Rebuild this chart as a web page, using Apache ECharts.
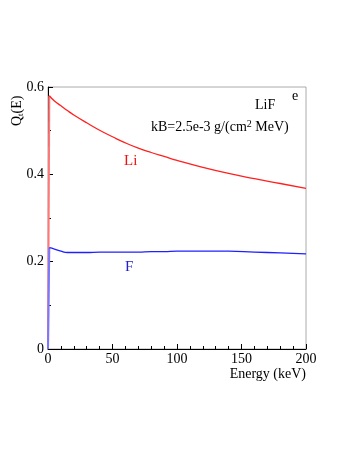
<!DOCTYPE html>
<html>
<head>
<meta charset="utf-8">
<script src="https://cdn.jsdelivr.net/npm/echarts@6/dist/echarts.min.js"></script>
<style>
html,body{margin:0;padding:0;background:#fff;}
#chart{width:360px;height:466px;}
</style>
</head>
<body>
<div id="chart"></div>
<script>
// values
let energy = [0, 1, 5, 10, 15, 20, 30, 40, 50, 60, 70, 80, 90, 100, 120, 140, 160, 180, 200];
let liQ = [0, 0.580, 0.568, 0.557, 0.546, 0.536, 0.518, 0.501, 0.486, 0.472, 0.460, 0.450, 0.441, 0.432, 0.416, 0.402, 0.390, 0.379, 0.368];
let fQ = [0, 0.232, 0.229, 0.224, 0.221, 0.221, 0.221, 0.222, 0.222, 0.222, 0.222, 0.223, 0.223, 0.224, 0.224, 0.224, 0.222, 0.220, 0.218];
let xTicks = [0, 50, 100, 150, 200];
let yTicks = [0, 0.2, 0.4, 0.6];

function pairs(xs, ys, from, to){
    let out = [];
    for (let i = from; i < to; i++) out.push([xs[i], ys[i]]);
    return out;
}

let serif = 'Liberation Serif';
let option = {
    animation: false,
    grid: {
        left: 48, right: 54, top: 87, bottom: 117,
        show: true, borderColor: '#aaa', borderWidth: 1
    },
    xAxis: {
        type: 'value', min: xTicks[0], max: xTicks[xTicks.length-1], interval: 50,
        name: 'Energy (keV)', nameLocation: 'end', nameGap: 0,
        nameTextStyle: {fontFamily: serif, fontSize: 14, color: '#000', align: 'right', verticalAlign: 'top', padding: [18, 0, 0, 0]},
        axisLine: {lineStyle: {color: '#000', width: 1}},
        axisTick: {inside: true, length: 5, lineStyle: {color: '#000'}},
        minorTick: {show: true, splitNumber: 5, length: 3, lineStyle: {color: '#000'}},
        splitLine: {show: false},
        axisLabel: {fontFamily: serif, fontSize: 14, color: '#000', margin: 3}
    },
    yAxis: {
        type: 'value', min: yTicks[0], max: yTicks[yTicks.length-1], interval: 0.2,
        axisLine: {show: true, lineStyle: {color: '#000', width: 1}},
        axisTick: {inside: true, length: 5, lineStyle: {color: '#000'}},
        minorTick: {show: true, splitNumber: 2, length: 3, lineStyle: {color: '#000'}},
        splitLine: {show: false},
        axisLabel: {fontFamily: serif, fontSize: 14, color: '#000', margin: 4,
            formatter: function(v){ return v === 0 ? '0' : v.toFixed(1); }}
    },
    graphic: [
        {type: 'text', x: 10, y: 126, rotation: Math.PI / 2, style: {
            text: '{q|Q}{s|t}{q|(E)}',
            rich: {q: {fontFamily: serif, fontSize: 14, fill: '#000'}, s: {fontFamily: serif, fontSize: 9, fill: '#000', padding: [6, 0, 0, 0]}}
        }},
        {type: 'text', left: 292, top: 89, style: {text: 'e', font: '14px "Liberation Serif"', fill: '#000'}},
        {type: 'text', left: 255, top: 98, style: {text: 'LiF', font: '14px "Liberation Serif"', fill: '#000'}},
        {type: 'text', left: 151, top: 119, style: {
            text: '{a|kB=2.5e-3 g/(cm}{b|2}{a| MeV)}',
            rich: {a: {fontFamily: serif, fontSize: 14, fill: '#000'}, b: {fontFamily: serif, fontSize: 10, fill: '#000', verticalAlign: 'top', padding: [0, 0, 6, 0]}}
        }},
        {type: 'text', left: 124, top: 154, style: {text: 'Li', font: '15px "Liberation Serif"', fill: '#ee1111'}},
        {type: 'text', left: 125, top: 260, style: {text: 'F', font: '15px "Liberation Serif"', fill: '#2222cc'}}
    ],
    series: [
        {name: 'Li rise', type: 'line', data: pairs(energy, liQ, 0, 2), showSymbol: false,
            lineStyle: {color: '#ff7777', width: 2}},
        {name: 'Li', type: 'line', data: pairs(energy, liQ, 1, energy.length), showSymbol: false, smooth: true,
            lineStyle: {color: '#ff2020', width: 1.3}},
        {name: 'F rise', type: 'line', data: pairs(energy, fQ, 0, 2), showSymbol: false,
            lineStyle: {color: '#7777ff', width: 2}},
        {name: 'F', type: 'line', data: pairs(energy, fQ, 1, energy.length), showSymbol: false, smooth: true,
            lineStyle: {color: '#2020ff', width: 1.3}}
    ]
};
let myChart = echarts.init(document.getElementById('chart'));
myChart.setOption(option);
</script>
</body>
</html>
